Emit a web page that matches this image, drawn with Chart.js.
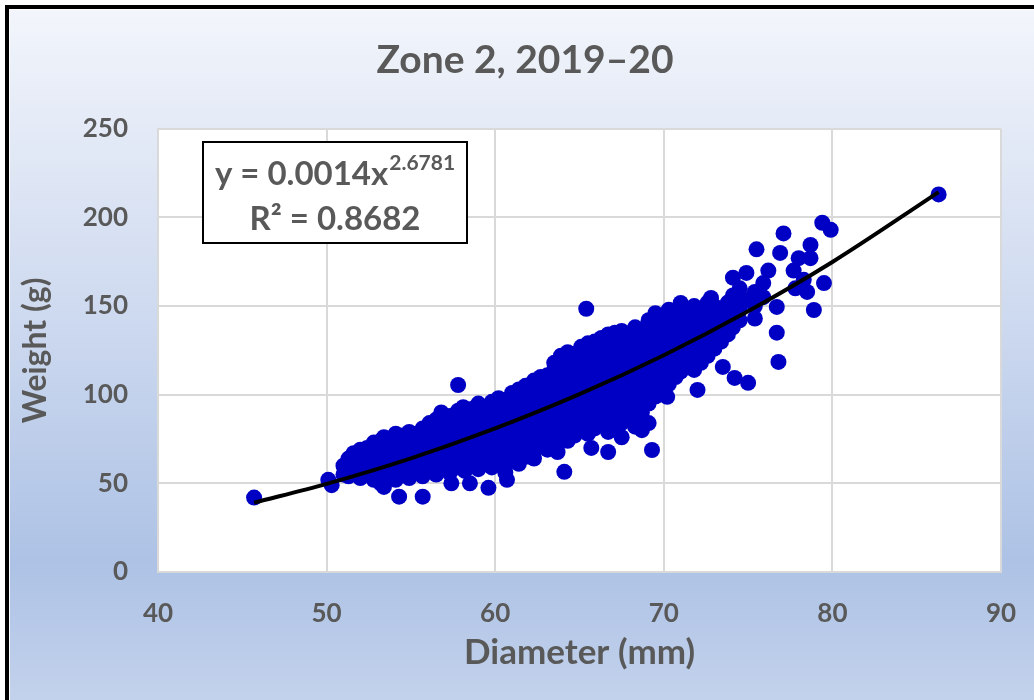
<!DOCTYPE html>
<html><head><meta charset="utf-8">
<script src="https://cdn.jsdelivr.net/npm/chart.js@4"></script>
<style>html,body{margin:0;padding:0;background:#fff;overflow:hidden}#wrap{width:1034px;height:700px;position:relative}</style>
</head><body><div id="wrap"><canvas id="c" width="1034" height="700"></canvas></div>
<script>
const chartTitle = 'Zone 2, 2019–20';
const xAxisTitle = 'Diameter (mm)';
const yAxisTitle = 'Weight (g)';
const xTicks = [40, 50, 60, 70, 80, 90];
const yTicks = [0, 50, 100, 150, 200, 250];
const equationMain = 'y = 0.0014x';
const equationExp = '2.6781';
const r2Text = 'R² = 0.8682';

const diameter = [
45.7,
50.1,
50.3,
51.0,51.0,
51.3,51.3,51.3,
51.6,51.6,51.6,
52.0,52.0,52.0,52.0,
52.4,52.4,52.4,52.4,
52.8,52.8,52.8,52.8,52.8,
53.2,53.2,53.2,53.2,53.2,
53.4,53.4,
53.7,53.7,53.7,53.7,53.7,
54.1,54.1,54.1,54.1,54.1,54.1,
54.3,
54.5,54.5,54.5,54.5,54.5,
54.9,54.9,54.9,54.9,54.9,54.9,
55.3,55.3,55.3,55.3,55.3,
55.7,55.7,55.7,55.7,55.7,55.7,55.7,
56.1,56.1,56.1,56.1,56.1,56.1,
56.5,56.5,56.5,56.5,56.5,56.5,56.5,
56.8,
56.9,56.9,56.9,56.9,56.9,56.9,
57.3,57.3,57.3,57.3,57.3,57.3,57.3,
57.4,
57.8,57.8,57.8,57.8,57.8,57.8,57.8,57.8,
58.1,
58.2,58.2,58.2,58.2,58.2,58.2,58.2,
58.5,
58.6,58.6,58.6,58.6,58.6,58.6,58.6,
59.0,59.0,59.0,59.0,59.0,59.0,59.0,59.0,
59.4,59.4,59.4,59.4,59.4,59.4,59.4,
59.6,
59.8,59.8,59.8,59.8,59.8,59.8,59.8,59.8,
60.2,60.2,60.2,60.2,60.2,60.2,60.2,60.2,
60.6,60.6,60.6,60.6,60.6,60.6,60.6,60.6,60.6,
60.7,
61.0,61.0,61.0,61.0,61.0,61.0,61.0,61.0,
61.4,61.4,61.4,61.4,61.4,61.4,61.4,61.4,61.4,
61.8,61.8,61.8,61.8,61.8,61.8,61.8,61.8,61.8,
62.3,62.3,62.3,62.3,62.3,62.3,62.3,62.3,62.3,62.3,
62.7,62.7,62.7,62.7,62.7,62.7,62.7,62.7,62.7,
63.1,63.1,63.1,63.1,63.1,63.1,63.1,63.1,63.1,
63.5,63.5,63.5,63.5,63.5,63.5,63.5,63.5,63.5,63.5,
63.7,
63.9,63.9,63.9,63.9,63.9,63.9,63.9,63.9,63.9,63.9,
64.1,
64.3,64.3,64.3,64.3,64.3,64.3,64.3,64.3,64.3,64.3,64.3,
64.7,64.7,64.7,64.7,64.7,64.7,64.7,64.7,64.7,64.7,
65.1,65.1,65.1,65.1,65.1,65.1,65.1,65.1,65.1,65.1,
65.4,
65.5,65.5,65.5,65.5,65.5,65.5,65.5,65.5,65.5,65.5,65.5,
65.7,
65.9,65.9,65.9,65.9,65.9,65.9,65.9,65.9,65.9,65.9,
66.3,66.3,66.3,66.3,66.3,66.3,66.3,66.3,66.3,66.3,
66.7,66.7,66.7,66.7,66.7,66.7,66.7,66.7,66.7,66.7,66.7,66.7,
67.1,67.1,67.1,67.1,67.1,67.1,67.1,67.1,67.1,67.1,
67.5,67.5,67.5,67.5,67.5,67.5,67.5,67.5,67.5,67.5,67.5,
67.9,67.9,67.9,67.9,67.9,67.9,67.9,67.9,67.9,
68.3,68.3,68.3,68.3,68.3,68.3,68.3,68.3,68.3,68.3,68.3,
68.7,68.7,68.7,68.7,68.7,68.7,68.7,68.7,68.7,68.7,
69.1,69.1,69.1,69.1,69.1,69.1,69.1,69.1,69.1,69.1,
69.3,
69.5,69.5,69.5,69.5,69.5,69.5,69.5,69.5,69.5,
69.9,69.9,69.9,69.9,69.9,69.9,69.9,69.9,
70.2,
70.3,70.3,70.3,70.3,70.3,70.3,70.3,70.3,
70.7,70.7,70.7,70.7,70.7,70.7,70.7,
71.0,71.0,71.0,71.0,71.0,71.0,71.0,71.0,
71.4,71.4,71.4,71.4,71.4,71.4,
71.8,71.8,71.8,71.8,71.8,71.8,71.8,
72.0,
72.2,72.2,72.2,72.2,72.2,72.2,
72.6,72.6,72.6,72.6,72.6,72.6,
72.8,
73.0,73.0,73.0,73.0,73.0,
73.4,73.4,73.4,73.4,
73.5,
73.8,73.8,73.8,73.8,
74.1,74.1,74.1,74.1,74.1,
74.2,
74.5,74.5,74.5,
74.9,74.9,
75.0,
75.4,75.4,75.4,
75.5,
75.9,75.9,
76.2,
76.7,76.7,
76.8,
76.9,
77.1,
77.7,
77.8,
78.0,
78.3,
78.5,
78.7,78.7,
78.9,
79.4,
79.5,
79.9,
86.3
];

const weight = [
42,
52,
49,
55,60,
54,59,64,
57,62,67,
53,58,63,69,
55,61,66,70,
52,57,63,68,73,
50,56,62,67,74,
48,76,
54,60,65,71,75,
52,57,63,69,74,78,
42.5,
55,61,66,72,77,
53,59,64,70,75,79,
56,62,67,73,78,
42.5,54,60,65,71,76,81,
57,63,68,74,79,84,
55,61,66,72,77,82,86,
90,
58,64,69,75,80,85,
56,62,67,73,78,83,88,
50,
105.5,59,65,70,76,81,86,91,
93,
57,63,68,74,79,84,89,
50,
60,66,71,77,82,87,92,
58,64,69,75,80,85,90,95,
61,67,72,78,83,88,93,
47.5,
59,65,70,76,81,86,91,96,
62,68,73,79,84,89,94,98,
56,60,66,71,77,82,87,92,97,
52,
63,69,74,80,85,90,95,101,
61,67,72,78,83,88,93,98,103,
65,70,76,81,86,91,96,101,105,
64,68,73,79,84,89,94,99,104,108,
71,77,82,87,92,97,102,107,110,
69,75,80,85,90,95,100,105,111,
73,78,83,88,93,98,103,108,114,118,
67.7,
76,81,86,91,96,101,106,111,117,122,
56.5,
74,79,84,89,94,99,104,109,115,120,124,
77,82,87,92,97,102,107,112,118,123,
80,85,90,95,100,105,110,116,121,127,
148.5,
78,83,88,93,98,103,108,114,119,125,129,
70,
81,86,91,96,101,106,112,117,123,130,
84,89,94,99,104,110,115,121,126,132,
67.7,79,87,92,97,102,108,113,119,124,130,134,
82,90,95,100,106,111,117,122,128,135,
76,84,93,98,104,109,115,120,126,132,136,
88,96,102,107,113,118,124,130,134,
82,86,94,100,105,111,116,122,128,135,138,
80,90,98,103,109,114,120,126,132,137,
84,95,101,107,112,118,124,130,136,142,
68.8,
99,105,110,116,122,128,134,140,146,
103,108,114,120,126,132,138,144,
98.8,
106,112,118,124,130,136,142,148,
110,116,122,128,134,140,146,
151.8,113,119,125,131,137,143,149,
116,122,128,134,140,146,
114,120,126,132,138,144,150,
102.7,
118,124,130,136,142,148,
122,128,134,140,146,152,
154.6,
126,132,138,144,150,
130,136,142,148,
115.7,
134,140,146,152,
166,138,144,150,156,
109.5,
142,148,160,
153.5,168.7,
106.7,
143,150,158,
182,
163,155,
170,
149.5,135,
118.5,
180,
191,
170,
160,
177,
164.8,
158,
184.5,177,
147.8,
197,
163,
193,
213
];

const trendX = [45.7, 50, 55, 60, 65, 70, 75, 80, 86.3];
const trendY = [39.1, 49.7, 64.1, 81.0, 100.3, 122.3, 147.1, 174.9, 214.3];

const FONT = 'Lato, "Open Sans", "DejaVu Sans", sans-serif';
const TEXT = '#595959';

const n = Math.min(diameter.length, weight.length);
const points = [];
for (let i = 0; i < n; i++) points.push({x: diameter[i], y: weight[i]});
const trend = trendX.map((x, i) => ({x, y: trendY[i]}));

const bgPlugin = {
  id: 'bg',
  beforeDraw(chart) {
    const {ctx, width, height, chartArea} = chart;
    ctx.save();
    ctx.fillStyle = '#ffffff';
    ctx.fillRect(0, 0, width, height);
    const g = ctx.createLinearGradient(0, 10, 0, height);
    g.addColorStop(0, '#f2f5fb');
    g.addColorStop(0.45, '#cdd9ef');
    g.addColorStop(0.8, '#adc2e5');
    g.addColorStop(1, '#c3d2ec');
    ctx.fillStyle = g;
    ctx.fillRect(10, 10, width, height);
    ctx.strokeStyle = '#000';
    ctx.lineWidth = 4;
    ctx.strokeRect(7, 7, width + 20, height + 20);
    ctx.fillStyle = '#ffffff';
    ctx.fillRect(chartArea.left, chartArea.top, chartArea.right - chartArea.left, chartArea.bottom - chartArea.top);
    ctx.restore();
  },
  afterDatasetsDraw(chart) {
    const {ctx} = chart;
    ctx.save();
    const bx = 203, by = 142, bw = 264, bh = 101;
    ctx.fillStyle = '#fff';
    ctx.fillRect(bx, by, bw, bh);
    ctx.strokeStyle = '#000';
    ctx.lineWidth = 2;
    ctx.strokeRect(bx, by, bw, bh);
    ctx.fillStyle = TEXT;
    ctx.textBaseline = 'alphabetic';
    ctx.textAlign = 'left';
    const mainFont = 'bold 33px ' + FONT;
    const supFont = 'bold 21px ' + FONT;
    ctx.font = mainFont;
    const w1 = ctx.measureText(equationMain).width;
    ctx.font = supFont;
    const w2 = ctx.measureText(equationExp).width;
    const cx = bx + bw / 2;
    let x0 = cx - (w1 + w2 + 1) / 2;
    ctx.font = mainFont;
    ctx.fillText(equationMain, x0, 185);
    ctx.font = supFont;
    ctx.fillText(equationExp, x0 + w1 + 1, 170);
    ctx.font = mainFont;
    ctx.textAlign = 'center';
    ctx.fillText(r2Text, cx, 230);
    ctx.restore();
  }
};

new Chart(document.getElementById('c'), {
  type: 'scatter',
  data: {
    datasets: [
      {
        label: 'Trend',
        data: trend,
        showLine: true,
        borderColor: '#000000',
        borderWidth: 4,
        pointRadius: 0,
        cubicInterpolationMode: 'monotone',
        order: 0
      },
      {
        label: 'Weight',
        data: points,
        backgroundColor: '#0000c4',
        borderWidth: 0,
        pointRadius: 8,
        order: 1
      }
    ]
  },
  options: {
    responsive: false,
    animation: false,
    devicePixelRatio: 1,
    layout: {padding: {left: 16, right: 0, top: 0, bottom: 0}},
    plugins: {
      legend: {display: false},
      tooltip: {enabled: false},
      title: {
        display: true,
        text: chartTitle,
        color: TEXT,
        font: {family: FONT, size: 39, weight: 'bold', lineHeight: 1.2},
        padding: {top: 37, bottom: 45}
      }
    },
    scales: {
      x: {
        type: 'linear',
        min: xTicks[0],
        max: xTicks[xTicks.length - 1],
        afterBuildTicks: s => { s.ticks = xTicks.map(v => ({value: v})); },
        afterFit: s => { s.height = 128; },
        grid: {color: '#d9d9d9', lineWidth: 2, drawTicks: true, tickLength: 26, tickColor: 'rgba(0,0,0,0)'},
        border: {display: true, color: '#d9d9d9', width: 2},
        ticks: {color: TEXT, padding: 0, font: {family: FONT, size: 26, weight: 'bold'}},
        title: {display: true, text: xAxisTitle, color: TEXT, padding: {top: 0, bottom: 26}, font: {family: FONT, size: 35, weight: 'bold', lineHeight: 1.2}}
      },
      y: {
        type: 'linear',
        min: yTicks[0],
        max: yTicks[yTicks.length - 1],
        afterBuildTicks: s => { s.ticks = yTicks.map(v => ({value: v})); },
        afterFit: s => { s.width = 142; },
        grid: {color: '#d9d9d9', lineWidth: 2, drawTicks: false},
        border: {display: true, color: '#d9d9d9', width: 2},
        ticks: {color: TEXT, padding: 30, font: {family: FONT, size: 26, weight: 'bold'}},
        title: {display: true, text: yAxisTitle, color: TEXT, padding: {top: 0, bottom: 0}, font: {family: FONT, size: 32, weight: 'bold', lineHeight: 1.2}}
      },
      yRight: {
        type: 'linear',
        position: 'right',
        display: true,
        min: 0,
        max: 1,
        afterFit: s => { s.width = 33; },
        grid: {display: false, drawTicks: false},
        border: {display: false},
        ticks: {display: false},
        title: {display: false}
      }
    }
  },
  plugins: [bgPlugin]
});
</script>
</body></html>
